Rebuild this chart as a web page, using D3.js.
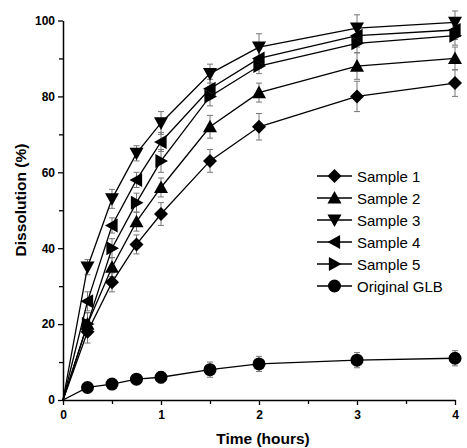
<!DOCTYPE html>
<html>
<head>
<meta charset="utf-8">
<script src="https://cdn.jsdelivr.net/npm/d3@7"></script>
<style>
  body { margin: 0; background: #fff; }
  text { font-family: "Liberation Sans", Arial, sans-serif; }
</style>
</head>
<body>
<svg id="canvas" width="467" height="448"></svg>
<script>
const times = [0, 0.25, 0.5, 0.75, 1, 1.5, 2, 3, 4];
const seriesNames = ["Sample 1", "Sample 2", "Sample 3", "Sample 4", "Sample 5", "Original GLB"];
const sample1 = [0, 18, 31, 41, 49, 63, 72, 80, 83.5];
const sample2 = [0, 20, 35, 47, 56, 72, 81, 88, 90];
const sample3 = [0, 35, 53, 65, 73, 86, 93, 98, 99.5];
const sample4 = [0, 26, 46, 58, 68, 82, 90, 96, 97.5];
const sample5 = [0, 20, 40, 52, 63, 80, 88, 94, 96];
const original = [0, 3.3, 4.2, 5.5, 6, 8, 9.5, 10.5, 11];
const err1 = [0, 3, 2.5, 2.5, 3, 3, 3.5, 4, 3.5];
const err2 = [0, 3, 2.5, 2.5, 2.5, 3, 2.5, 3.5, 3];
const err3 = [0, 2, 2.5, 2, 3, 2.5, 3.5, 3.5, 3];
const err4 = [0, 2.5, 2, 2, 2.5, 2.5, 2.5, 3, 2.5];
const err5 = [0, 3, 2.5, 2.5, 3, 2.5, 2, 2.5, 2.5];
const errO = [0, 1, 1, 1, 1.5, 2, 2, 2, 2];
const xTicks = [0, 1, 2, 3, 4];
const yTicks = [0, 20, 40, 60, 80, 100];

const values = [sample1, sample2, sample3, sample4, sample5, original];
const errors = [err1, err2, err3, err4, err5, errO];

const CANVAS = d3.select("#canvas");

var x = d3.scaleLinear().domain([0, 4]).range([63, 455]);
var y = d3.scaleLinear().domain([0, 100]).range([400, 20.5]);

/**
 * marker shapes, drawn around (0,0)
 */
function markerPath(i) {
  var s = 7;
  switch (i) {
    case 0: return `M0,${-s}L${s},0L0,${s}L${-s},0Z`;
    case 1: return `M0,${-s}L${s},${s * 0.8}L${-s},${s * 0.8}Z`;
    case 2: return `M0,${s}L${s},${-s * 0.8}L${-s},${-s * 0.8}Z`;
    case 3: return `M${-s},0L${s * 0.8},${-s}L${s * 0.8},${s}Z`;
    case 4: return `M${s},0L${-s * 0.8},${-s}L${-s * 0.8},${s}Z`;
  }
  return null;
}

function drawMarker(g, i, cx, cy) {
  if (i === 5) {
    g.append("circle").attr("cx", cx).attr("cy", cy).attr("r", 6.5).style("fill", "black");
  } else {
    g.append("path").attr("d", markerPath(i))
      .attr("transform", `translate(${cx},${cy})`)
      .style("fill", "black");
  }
}

// axes
var xAxis = d3.axisBottom(x).tickValues(d3.range(0, 4.01, 0.5))
  .tickFormat(d => xTicks.includes(d) ? d : "").tickSize(5).tickSizeOuter(0);
var gx = CANVAS.append("g").attr("transform", "translate(0,400)").call(xAxis);
gx.selectAll("line").filter(d => !xTicks.includes(d)).attr("y2", 4);
gx.selectAll("text").attr("y", 10).style("font-size", "12px").style("font-weight", "bold");

var yAxis = d3.axisLeft(y).tickValues(d3.range(0, 101, 10))
  .tickFormat(d => yTicks.includes(d) ? d : "").tickSize(5).tickSizeOuter(0);
var gy = CANVAS.append("g").attr("transform", "translate(63,0)").call(yAxis);
gy.selectAll("line").filter(d => !yTicks.includes(d)).attr("x2", -4);
gy.selectAll("text").attr("x", -8).style("font-size", "12px").style("font-weight", "bold");

CANVAS.selectAll(".domain").style("stroke-width", 1.5);
CANVAS.selectAll(".tick line").style("stroke-width", 1.3);

CANVAS.append("text")
  .attr("x", 263).attr("y", 444)
  .attr("text-anchor", "middle")
  .style("font-size", "15.5px").style("font-weight", "bold")
  .text("Time (hours)");

CANVAS.append("text")
  .attr("transform", "translate(26,200) rotate(-90)")
  .attr("text-anchor", "middle")
  .style("font-size", "15.5px").style("font-weight", "bold")
  .text("Dissolution (%)");

// error bars
values.forEach((vals, i) => {
  var g = CANVAS.append("g").style("stroke", "#777").style("stroke-width", 1);
  vals.forEach((v, j) => {
    var e = errors[i][j];
    if (!e) return;
    var cx = x(times[j]);
    g.append("line").attr("x1", cx).attr("x2", cx).attr("y1", y(v - e)).attr("y2", y(v + e));
    g.append("line").attr("x1", cx - 3).attr("x2", cx + 3).attr("y1", y(v - e)).attr("y2", y(v - e));
    g.append("line").attr("x1", cx - 3).attr("x2", cx + 3).attr("y1", y(v + e)).attr("y2", y(v + e));
  });
});

// lines
var line = d3.line().x((d, j) => x(times[j])).y(d => y(d));
values.forEach(vals => {
  CANVAS.append("path").attr("d", line(vals))
    .style("fill", "none").style("stroke", "black").style("stroke-width", 1.3);
});

// markers
values.forEach((vals, i) => {
  var g = CANVAS.append("g");
  vals.forEach((v, j) => {
    if (times[j] === 0) return;
    drawMarker(g, i, x(times[j]), y(v));
  });
});

// legend
seriesNames.forEach((name, i) => {
  var ly = 176 + i * 22;
  var g = CANVAS.append("g");
  g.append("line").attr("x1", 317).attr("x2", 352).attr("y1", ly).attr("y2", ly)
    .style("stroke", "black").style("stroke-width", 1.3);
  drawMarker(g, i, 334.5, ly);
  g.append("text").attr("x", 357).attr("y", ly + 5.5)
    .style("font-size", "15px").text(name);
});
</script>
</body>
</html>
